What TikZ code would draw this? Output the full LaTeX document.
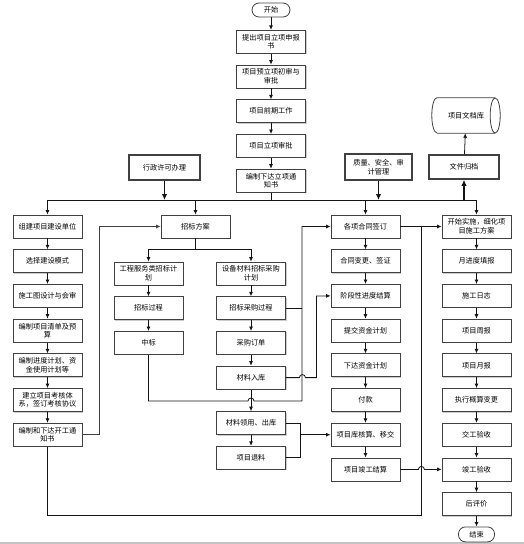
\documentclass[tikz,border=0pt]{standalone}
\usepackage{fontspec}
\setmainfont{Noto Sans CJK SC}
\usetikzlibrary{positioning,arrows.meta,calc,shadows}
\definecolor{BoxLine}{RGB}{64,64,64}
\definecolor{FlowLine}{RGB}{20,20,20}
\definecolor{PageLine}{RGB}{196,196,196}
\tikzset{
  flow/.style={-{Latex[length=4.5pt,width=4pt]},line width=0.8pt,draw=FlowLine},
  line/.style={line width=0.8pt,draw=FlowLine},
  boldflow/.style={-{Latex[length=6pt,width=5.5pt]},line width=1.8pt,draw=FlowLine},
  box/.style={draw=BoxLine,fill=white,line width=0.8pt,minimum width=69pt,
    minimum height=23pt,inner sep=1.5pt,align=center,font=\fontsize{7.2}{8.6}\selectfont,
    drop shadow={shadow xshift=1pt,shadow yshift=-1pt,fill=black!40,opacity=0.5}},
  strongbox/.style={box,line width=1.6pt},
  termbox/.style={draw=BoxLine,fill=white,line width=0.8pt,rounded corners=7pt,
    minimum height=14pt,inner sep=1pt,font=\fontsize{7.2}{8.6}\selectfont},
  docstore/.style={minimum width=58pt,minimum height=35pt,inner sep=0pt,
    font=\fontsize{7.2}{8.6}\selectfont}
}
\begin{document}
\begin{tikzpicture}[x=1pt,y=-1pt,node distance=10.9pt]
  \useasboundingbox (0,0) rectangle (524,544);
  \draw[PageLine,line width=1.5pt] (0,543) -- (524,543);
  % project start
  \node[termbox,minimum width=38pt] (start) at (271,10) {开始};
  \node[box,below=12.5pt of start] (apply) {提出项目立项申报\\书};
  \node[box,below=of apply] (precheck) {项目预立项初审与\\审批};
  \node[box,below=of precheck] (prework) {项目前期工作};
  \node[box,below=of prework] (approve) {项目立项审批};
  \node[box,below=of approve] (notice) {编制下达立项通\\知书};
  \node[strongbox,minimum width=71pt,minimum height=25pt] (permit) at (164.5,167.5) {行政许可办理};
  \node[strongbox,minimum width=67pt,minimum height=26pt] (quality) at (378.5,167) {质量、安全、审\\计管理};
  \node[strongbox,minimum width=70pt,minimum height=24pt] (archive) at (464,167) {文件归档};
  \node[docstore] (library) at (466,115.5) {项目文档库};
  \draw[draw=BoxLine,line width=0.8pt] (library.north west) -- (library.north east)
    (library.south west) -- (library.south east)
    (library.east) ellipse[x radius=5pt,y radius=17.5pt]
    (library.north west) arc[start angle=90,end angle=270,x radius=5pt,y radius=17.5pt];
  % owner side
  \node[box] (unit) at (47.5,226.5) {组建项目建设单位};
  \node[box,below=of unit] (mode) {选择建设模式};
  \node[box,below=of mode] (design) {施工图设计与会审};
  \node[box,below=of design] (budget) {编制项目清单及预\\算};
  \node[box,below=of budget] (schedule) {编制进度计划、资\\金使用计划等};
  \node[box,below=of schedule] (assess) {建立项目考核体\\系，签订考核协议};
  \node[box,below=of assess] (startwork) {编制和下达开工通\\知书};
  % tendering
  \node[box] (tender) at (195.5,226.5) {招标方案};
  \node[box] (svcplan) at (148.5,273.5) {工程服务类招标计\\划};
  \node[box,below=of svcplan] (svcbid) {招标过程};
  \node[box,below=of svcbid] (award) {中标};
  \node[box] (matplan) at (251,273.5) {设备材料招标采购\\计划};
  \node[box,below=of matplan] (matbid) {招标采购过程};
  \node[box,below=of matbid] (order) {采购订单};
  \node[box,below=of order] (stockin) {材料入库};
  \node[box,below=21.7pt of stockin] (stockout) {材料领用、出库};
  \node[box,below=of stockout] (refund) {项目退料};
  % contracts
  \node[box] (contract) at (365.5,226.5) {各项合同签订};
  \node[box,below=of contract] (change) {合同变更、签证};
  \node[box,below=of change] (stage) {阶段性进度结算};
  \node[box,below=of stage] (fundreq) {提交资金计划};
  \node[box,below=of fundreq] (fundrel) {下达资金计划};
  \node[box,below=of fundrel] (payment) {付款};
  \node[box,below=of payment] (handover) {项目库核算、移交};
  \node[box,below=of handover] (settle) {项目竣工结算};
  % construction
  \node[box] (site) at (476.5,226.5) {开始实施，细化项\\目施工方案};
  \node[box,below=of site] (monthly) {月进度填报};
  \node[box,below=of monthly] (diary) {施工日志};
  \node[box,below=of diary] (weekly) {项目周报};
  \node[box,below=of weekly] (report) {项目月报};
  \node[box,below=of report] (revise) {执行概算变更};
  \node[box,below=of revise] (handacc) {交工验收};
  \node[box,below=of handacc] (finalacc) {竣工验收};
  \node[box,below=of finalacc] (review) {后评价};
  \node[termbox,minimum width=36pt,minimum height=15pt,below=10.5pt of review] (finish) {结束};
  % junctions
  \coordinate (bus) at (0,200);
  \coordinate (low) at (0,515);
  \coordinate (mjoin) at (302,401);
  \coordinate (acorner) at (148.5,401);
  \coordinate (hopin) at (248,401);
  \coordinate (rjoin) at ($(contract.east)!0.5!(site.west)$);
  \path (handover.west) ++(-30,0) coordinate (sjoin);
  % main flow
  \draw[flow] (start) -- (apply);
  \draw[flow] (apply) -- (precheck);
  \draw[flow] (precheck) -- (prework);
  \draw[flow] (prework) -- (approve);
  \draw[flow] (approve) -- (notice);
  \draw[line] (notice) -- (notice |- bus);
  \draw[line] (unit |- bus) -- (site |- bus);
  \draw[flow] (unit |- bus) -- (unit);
  \draw[flow] (tender |- bus) -- (tender);
  \draw[flow] (contract |- bus) -- (contract);
  \draw[flow] (site |- bus) -- (site);
  \draw[boldflow] (permit) -- (permit |- bus);
  \draw[boldflow] (quality) -- (quality |- bus);
  \draw[boldflow] (archive |- bus) -- (archive);
  \draw[flow] (archive) -- (library);
  % owner side
  \draw[flow] (unit) -- (mode);
  \draw[flow] (mode) -- (design);
  \draw[flow] (design) -- (budget);
  \draw[flow] (budget) -- (schedule);
  \draw[flow] (schedule) -- (assess);
  \draw[flow] (assess) -- (startwork);
  \draw[flow,draw=BoxLine] (startwork.east) -- ++(17,0) |- (tender.west);
  \draw[line] (startwork.south) |- (low -| rjoin) -- (rjoin);
  % tendering
  \draw[flow] (tender.south) -- ++(0,11) -| (svcplan.north);
  \draw[flow] (tender.south) ++(0,11) -| (matplan.north);
  \draw[flow] (svcplan) -- (svcbid);
  \draw[flow] (svcbid) -- (award);
  \draw[flow] (matplan) -- (matbid);
  \draw[flow] (matbid) -- (order);
  \draw[flow] (order) -- (stockin);
  \draw[flow] (stockin) -- (stockout);
  \draw[flow] (stockout) -- (refund);
  \draw[flow] (award.south) -- (acorner) -- (hopin)
    arc[start angle=180,end angle=0,radius=3pt] -- (mjoin) |- (contract.west);
  \draw[line] (matbid.east) -- (matbid.east -| mjoin);
  \draw[flow] (stockin.east) -- ++(13.5,0)
    arc[start angle=180,end angle=0,radius=3pt] -- ++(11,0) |- (stage.west);
  \draw[line] (stockout.east) -| (sjoin);
  \draw[line] (refund.east) -| (sjoin);
  \draw[flow,line width=1.3pt] (sjoin) -- (handover.west);
  % contracts
  \draw[flow] (contract) -- (change);
  \draw[flow] (change) -- (stage);
  \draw[flow] (stage) -- (fundreq);
  \draw[flow] (fundreq) -- (fundrel);
  \draw[flow] (fundrel) -- (payment);
  \draw[flow] (payment) -- (handover);
  \draw[flow] (handover) -- (settle);
  \draw[flow] (contract.east) -- (site.west);
  \draw[flow] (settle.east) -- ++(18,0)
    arc[start angle=180,end angle=0,radius=3pt] -- (finalacc.west);
  % construction
  \draw[flow] (site) -- (monthly);
  \draw[flow] (monthly) -- (diary);
  \draw[flow] (diary) -- (weekly);
  \draw[flow] (weekly) -- (report);
  \draw[flow] (report) -- (revise);
  \draw[flow] (revise) -- (handacc);
  \draw[flow] (handacc) -- (finalacc);
  \draw[flow] (finalacc) -- (review);
  \draw[flow] (review) -- (finish);
\end{tikzpicture}
\end{document}
